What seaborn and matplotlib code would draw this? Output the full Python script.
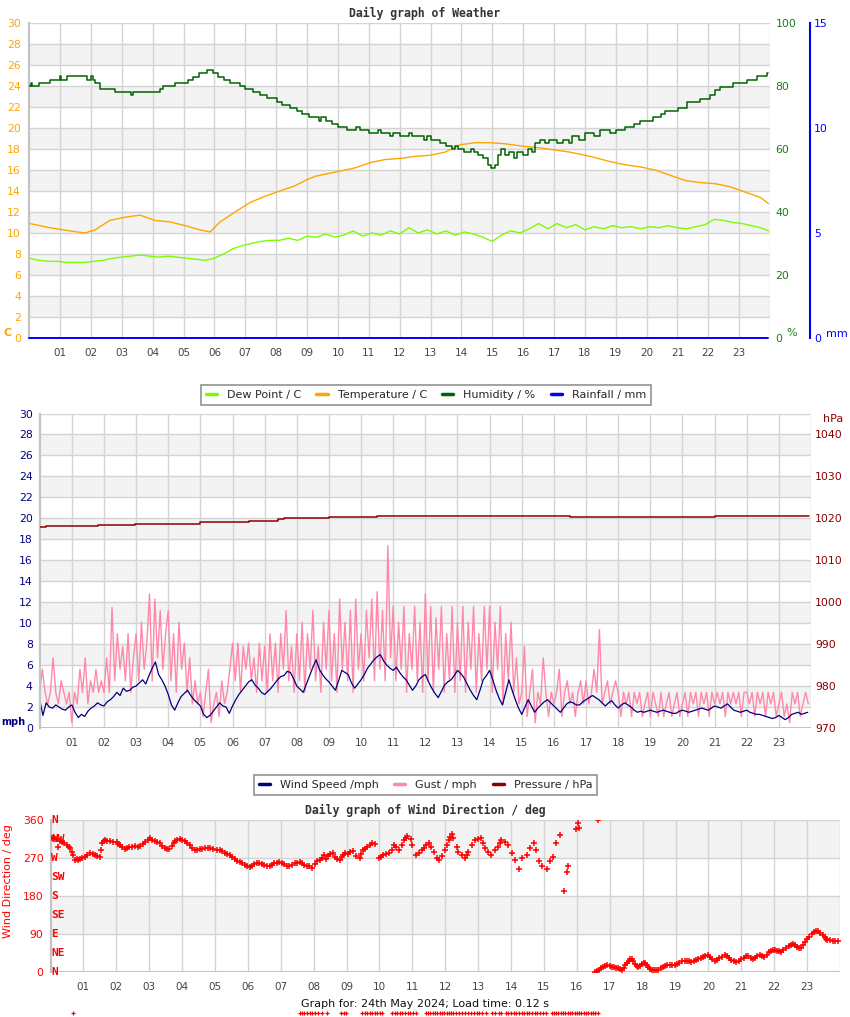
import numpy as np
import pandas as pd
import matplotlib
matplotlib.use("Agg")
import matplotlib.pyplot as plt
import seaborn as sns
from matplotlib.lines import Line2D

# ---------------- data ----------------
hour_ticks = list(range(1, 24))
hour_labels = ["01", "02", "03", "04", "05", "06", "07", "08", "09", "10", "11", "12",
               "13", "14", "15", "16", "17", "18", "19", "20", "21", "22", "23"]

# Weather chart
temp_hours = [0.02, 0.67, 1.32, 1.80, 2.13, 2.61, 3.10, 3.59, 4.07, 4.56, 5.05, 5.53, 5.86,
              6.18, 6.67, 7.15, 7.64, 8.12, 8.61, 8.94, 9.26, 9.74, 10.23, 10.55, 11.04,
              11.53, 12.01, 12.50, 12.98, 13.47, 13.96, 14.44, 14.93, 15.41, 15.90, 16.55,
              17.04, 17.52, 18.17, 18.82, 19.30, 19.79, 20.28, 20.76, 21.25, 21.73, 22.22,
              22.71, 23.19, 23.68, 23.95]
temp_c = [10.9, 10.5, 10.2, 10.0, 10.3, 11.2, 11.5, 11.7, 11.2, 11.05, 10.7, 10.3, 10.1,
          11.05, 12.0, 12.9, 13.5, 14.0, 14.5, 15.0, 15.4, 15.7, 16.0, 16.2, 16.7,
          17.0, 17.1, 17.3, 17.4, 17.7, 18.4, 18.6, 18.6, 18.5, 18.3, 18.1,
          17.9, 17.7, 17.3, 16.8, 16.5, 16.3, 16.0, 15.5, 15.0, 14.8, 14.7,
          14.4, 13.9, 13.4, 12.8]

dew_hours = [0.0, 0.3, 0.6, 0.9, 1.2, 1.5, 1.8, 2.1, 2.4, 2.7,
             3.0, 3.3, 3.6, 3.9, 4.2, 4.5, 4.8, 5.1, 5.4, 5.7,
             6.0, 6.3, 6.6, 6.9, 7.2, 7.5, 7.8, 8.1, 8.4, 8.7,
             9.0, 9.3, 9.6, 9.9, 10.2, 10.5, 10.8, 11.1, 11.4, 11.7,
             12.0, 12.3, 12.6, 12.9, 13.2, 13.5, 13.8, 14.1, 14.4, 14.7,
             15.0, 15.3, 15.6, 15.9, 16.2, 16.5, 16.8, 17.1, 17.4, 17.7,
             18.0, 18.3, 18.6, 18.9, 19.2, 19.5, 19.8, 20.1, 20.4, 20.7,
             21.0, 21.3, 21.6, 21.9, 22.2, 22.5, 22.8, 23.1, 23.4, 23.7,
             23.95]
dew_c = [7.6, 7.4, 7.3, 7.3, 7.2, 7.2, 7.2, 7.3, 7.4, 7.6,
         7.7, 7.8, 7.9, 7.8, 7.7, 7.8, 7.7, 7.6, 7.5, 7.4,
         7.6, 8.0, 8.5, 8.8, 9.0, 9.2, 9.3, 9.3, 9.5, 9.3,
         9.7, 9.6, 9.9, 9.6, 9.8, 10.2, 9.7, 10.0, 9.8, 10.2,
         9.9, 10.5, 10.0, 10.3, 9.9, 10.2, 9.8, 10.1, 9.9, 9.6,
         9.2, 9.8, 10.2, 10.0, 10.4, 10.9, 10.4, 10.9, 10.5, 10.8,
         10.3, 10.6, 10.4, 10.7, 10.5, 10.6, 10.4, 10.6, 10.5, 10.7,
         10.5, 10.4, 10.6, 10.8, 11.3, 11.2, 11.0, 10.9, 10.7, 10.5,
         10.2]

hum_hours = [0.00, 0.05, 0.10, 0.30, 0.67, 0.98, 1.03, 1.22, 1.87, 2.00,
             2.05, 2.13, 2.29, 2.78, 3.30, 3.35, 4.24, 4.33, 4.72, 5.14,
             5.31, 5.50, 5.76, 5.95, 6.11, 6.31, 6.50, 6.83, 7.00, 7.25,
             7.47, 7.70, 8.02, 8.19, 8.45, 8.67, 8.85, 9.05, 9.40, 9.45,
             9.60, 9.80, 10.00, 10.30, 10.60, 10.70, 11.00, 11.30, 11.40, 11.70,
             11.80, 12.00, 12.30, 12.40, 12.80, 12.90, 13.00, 13.30, 13.50, 13.70,
             13.80, 13.90, 14.10, 14.30, 14.40, 14.55, 14.70, 14.85, 14.95, 15.10,
             15.20, 15.30, 15.40, 15.55, 15.70, 15.80, 16.00, 16.15, 16.30, 16.40,
             16.55, 16.70, 16.85, 17.10, 17.30, 17.50, 17.60, 17.80, 18.00, 18.30,
             18.50, 18.80, 19.00, 19.30, 19.60, 19.80, 20.21, 20.47, 20.60, 21.02,
             21.31, 21.73, 22.06, 22.22, 22.38, 22.80, 23.25, 23.58, 23.90, 23.95]
hum_pct = [80.0, 80.9, 80.0, 80.9, 81.8, 83.1, 81.8, 83.1, 81.8, 83.1,
           81.8, 80.9, 79.0, 78.0, 77.3, 78.0, 79.0, 79.9, 80.9, 81.8,
           83.0, 84.0, 85.0, 84.0, 83.0, 81.8, 80.9, 79.9, 79.0, 78.0,
           77.0, 76.1, 75.0, 74.0, 73.0, 72.0, 71.0, 70.0, 69.0, 70.0,
           69.0, 68.0, 67.0, 66.0, 67.0, 66.0, 65.0, 66.0, 65.0, 64.0,
           65.0, 64.0, 65.0, 64.0, 63.0, 64.0, 63.0, 62.0, 61.0, 60.0,
           61.0, 60.0, 59.0, 60.0, 59.0, 58.0, 57.0, 55.0, 54.0, 55.0,
           58.0, 60.0, 58.0, 59.0, 57.0, 59.0, 58.0, 60.0, 59.0, 62.0,
           63.0, 62.0, 63.0, 62.0, 63.0, 62.0, 64.0, 63.0, 65.0, 64.0,
           66.0, 65.0, 66.0, 67.0, 68.0, 69.0, 70.0, 71.0, 72.0, 73.0,
           75.0, 76.0, 77.0, 78.7, 79.8, 80.9, 81.9, 83.2, 84.0, 84.0]

rain_hours = [0.0, 23.95]
rain_mm = [0.0, 0.0]

# Wind chart (wind speed every 6 min, gust every 5 min)
wind_mph = [
    2.7, 1.2, 2.4, 2.0, 1.9, 2.2, 2.0, 1.8, 1.7, 2.0,
    2.2, 1.5, 1.0, 1.3, 1.1, 1.6, 1.9, 2.1, 2.4, 2.2,
    2.1, 2.5, 2.7, 3.0, 3.4, 3.1, 3.8, 3.5, 3.6, 3.9,
    4.0, 4.3, 4.6, 4.2, 5.0, 5.7, 6.3, 5.1, 4.6, 4.0,
    3.2, 2.2, 1.7, 2.4, 3.0, 3.3, 3.6, 3.1, 2.7, 2.4,
    2.1, 1.3, 1.0, 1.2, 1.6, 2.0, 2.4, 2.1, 2.0, 1.4,
    2.1, 2.7, 3.2, 3.6, 4.0, 4.4, 4.6, 4.1, 3.8, 3.4,
    3.2, 3.5, 3.8, 4.2, 4.6, 4.9, 5.0, 5.4, 5.3, 4.7,
    4.0, 3.7, 3.4, 4.2, 5.0, 5.8, 6.5, 5.6, 5.1, 4.7,
    4.4, 4.0, 3.6, 4.5, 5.5, 5.3, 5.1, 4.3, 3.8, 4.2,
    4.6, 5.1, 5.7, 6.1, 6.5, 6.8, 7.0, 6.4, 6.0, 5.7,
    5.5, 5.8, 5.3, 4.9, 4.6, 4.1, 3.6, 4.0, 4.6, 4.9,
    5.1, 4.4, 3.8, 3.3, 2.9, 3.5, 4.1, 4.4, 4.6, 5.0,
    5.5, 5.2, 4.8, 4.2, 3.6, 3.1, 2.7, 3.6, 4.6, 5.0,
    5.5, 4.6, 3.6, 2.8, 2.2, 3.4, 4.6, 3.6, 2.7, 1.9,
    1.3, 2.0, 2.7, 2.1, 1.5, 1.9, 2.2, 2.5, 2.7, 2.4,
    2.1, 1.8, 1.5, 1.9, 2.3, 2.5, 2.4, 2.2, 2.2, 2.5,
    2.7, 2.9, 3.1, 2.9, 2.7, 2.4, 2.1, 2.4, 2.6, 2.2,
    1.9, 2.2, 2.4, 2.2, 2.0, 1.7, 1.5, 1.6, 1.5, 1.6,
    1.7, 1.6, 1.5, 1.6, 1.7, 1.6, 1.5, 1.4, 1.4, 1.6,
    1.7, 1.6, 1.5, 1.6, 1.7, 1.8, 1.9, 1.8, 1.7, 1.9,
    2.1, 2.0, 1.9, 2.1, 2.3, 2.0, 1.7, 1.6, 1.5, 1.6,
    1.7, 1.5, 1.4, 1.3, 1.3, 1.2, 1.1, 1.0, 0.9, 1.0,
    1.2, 1.0, 0.8, 1.0, 1.3, 1.4, 1.5, 1.3, 1.4, 1.5]
gust_mph = [
    3.4, 5.6, 3.4, 2.3, 3.4, 6.7, 3.4, 2.3, 4.5, 3.4, 2.3, 3.4,
    0.5, 3.4, 2.3, 5.6, 3.4, 6.7, 2.3, 4.5, 3.4, 5.6, 3.4, 4.5,
    3.4, 6.7, 3.4, 11.5, 4.5, 9.0, 5.6, 7.8, 4.5, 9.0, 3.4, 6.7,
    9.0, 4.5, 10.1, 5.6, 8.1, 12.8, 4.5, 12.3, 6.7, 11.2, 5.6, 9.0,
    11.2, 4.5, 9.0, 3.4, 10.1, 5.6, 8.1, 3.4, 6.7, 2.3, 4.5, 2.3,
    3.4, 1.1, 3.4, 5.6, 0.5, 2.3, 3.4, 1.1, 4.5, 2.3, 3.4, 5.6,
    8.1, 4.5, 8.1, 3.4, 7.8, 5.6, 8.1, 4.5, 6.7, 3.4, 8.1, 4.5,
    7.8, 3.4, 9.0, 4.5, 8.1, 3.4, 9.0, 5.6, 11.2, 4.5, 7.8, 3.4,
    9.0, 4.5, 10.1, 3.4, 9.0, 5.6, 11.2, 4.5, 7.8, 3.4, 10.1, 5.6,
    11.2, 4.5, 9.0, 3.4, 12.3, 5.6, 10.1, 4.5, 11.2, 3.4, 12.3, 5.6,
    9.0, 4.5, 11.2, 6.7, 12.3, 4.5, 13.0, 5.6, 11.2, 4.5, 17.4, 6.7,
    11.6, 4.5, 10.1, 5.6, 11.6, 3.4, 9.0, 5.6, 11.6, 4.5, 10.1, 3.4,
    12.8, 4.5, 11.6, 3.4, 10.5, 5.6, 11.6, 3.4, 9.0, 4.5, 11.6, 3.4,
    10.1, 4.5, 11.6, 3.4, 10.1, 5.6, 11.6, 3.4, 9.0, 4.5, 11.6, 5.6,
    11.6, 3.4, 10.1, 5.6, 11.6, 2.3, 9.0, 4.5, 10.1, 3.4, 6.7, 2.3,
    3.4, 7.8, 1.1, 3.4, 5.6, 0.5, 3.4, 2.3, 6.7, 3.4, 1.1, 3.4,
    2.3, 3.4, 5.6, 1.1, 3.4, 4.5, 2.3, 3.4, 1.1, 3.4, 4.5, 2.3,
    4.5, 2.3, 3.4, 5.6, 3.4, 9.4, 2.3, 3.4, 4.5, 2.3, 3.4, 4.5,
    3.4, 1.1, 3.4, 2.3, 3.4, 1.1, 3.4, 2.3, 3.4, 1.1, 2.3, 3.4,
    1.1, 3.4, 2.3, 1.1, 3.4, 1.1, 2.3, 3.4, 1.1, 2.3, 3.4, 1.1,
    2.3, 3.4, 1.1, 3.4, 2.3, 3.4, 1.1, 3.4, 2.3, 3.4, 1.1, 3.4,
    2.3, 3.4, 2.3, 3.4, 1.1, 3.4, 2.3, 3.4, 2.3, 3.4, 1.1, 3.4,
    3.4, 2.3, 3.4, 1.1, 3.4, 2.3, 3.4, 1.1, 3.4, 2.3, 3.4, 1.1,
    2.3, 3.4, 1.1, 2.3, 0.5, 3.4, 2.3, 3.4, 1.1, 2.3, 3.4, 2.3]
press_hours = [0.0, 0.2, 1.8, 2.97, 5.0, 6.5, 7.4, 7.6, 9.0, 10.5, 12.0, 13.0, 15.0,
               16.5, 17.5, 19.0, 21.0, 22.5, 23.95]
press_hpa = [1017.9, 1018.1, 1018.3, 1018.6, 1018.9, 1019.2, 1019.6, 1020.0, 1020.3,
             1020.4, 1020.5, 1020.4, 1020.4, 1020.3, 1020.1, 1020.2, 1020.5, 1020.4, 1020.4]

# Wind direction chart
dir_hours_a = [0.05, 0.10, 0.17, 0.23, 0.30, 0.35, 0.42, 0.50, 0.55, 0.60,
               0.65, 0.69, 0.75, 0.80, 0.84, 0.90, 0.95, 1.05, 1.10, 1.20,
               1.28, 1.35, 1.42, 1.50, 1.53, 1.57, 1.62, 1.66, 1.72, 1.81,
               1.90, 2.02, 2.06, 2.11, 2.18, 2.26, 2.33, 2.40, 2.48, 2.57,
               2.65, 2.72, 2.80, 2.87, 2.95, 3.02, 3.10, 3.17, 3.25, 3.32,
               3.40, 3.48, 3.55, 3.60, 3.68, 3.74, 3.78, 3.85, 3.93, 4.00,
               4.08, 4.15, 4.23, 4.30, 4.38, 4.45, 4.54, 4.62, 4.70, 4.78,
               4.85, 4.95, 5.05, 5.14, 5.22, 5.30, 5.38, 5.45, 5.52, 5.60,
               5.68, 5.75, 5.83, 5.90, 5.98, 6.05, 6.12, 6.20, 6.28, 6.35,
               6.42, 6.50, 6.58, 6.66, 6.73, 6.80, 6.88, 6.96, 7.03, 7.10,
               7.18, 7.26, 7.34, 7.42, 7.50, 7.57, 7.65, 7.72, 7.80, 7.87]
dir_deg_a = [318, 316, 315, 296, 310, 308, 306, 300, 297, 293,
             285, 277, 265, 268, 266, 268, 270, 272, 276, 282,
             280, 277, 275, 272, 290, 305, 310, 312, 311, 310,
             309, 308, 304, 300, 295, 291, 294, 296, 297, 298,
             297, 298, 302, 308, 313, 317, 313, 310, 307, 305,
             299, 293, 291, 291, 298, 305, 310, 313, 315, 312,
             310, 305, 300, 294, 289, 290, 291, 292, 293, 294,
             293, 291, 290, 289, 286, 282, 279, 277, 272, 268,
             264, 260, 257, 253, 250, 249, 252, 255, 257, 258,
             256, 253, 252, 251, 254, 257, 259, 260, 258, 255,
             252, 251, 254, 257, 259, 260, 257, 254, 252, 251]
dir_hours_b = [7.95, 8.05, 8.10, 8.20, 8.25, 8.30, 8.38, 8.45, 8.50, 8.58,
               8.65, 8.72, 8.80, 8.85, 8.90, 8.95, 9.05, 9.10, 9.20, 9.30,
               9.40, 9.45, 9.50, 9.55, 9.62, 9.70, 9.78, 9.85, 10.00, 10.05,
               10.12, 10.20, 10.30, 10.38, 10.45, 10.50, 10.60, 10.68, 10.75, 10.80,
               10.85, 10.95, 11.00, 11.10, 11.20, 11.30, 11.35, 11.42, 11.50, 11.58,
               11.66, 11.75, 11.80, 11.90, 12.00, 12.05, 12.10, 12.15, 12.20, 12.25,
               12.35, 12.40, 12.50, 12.60, 12.65, 12.70, 12.80, 12.90, 13.00, 13.10,
               13.15, 13.20, 13.30, 13.40, 13.50, 13.60, 13.65, 13.70, 13.83, 13.90,
               14.03, 14.13, 14.23, 14.33, 14.48, 14.59, 14.69, 14.75, 14.84, 14.94,
               15.09, 15.19, 15.29, 15.36, 15.48, 15.60, 15.70, 15.73, 15.97, 16.03,
               16.08, 16.64]
dir_deg_b = [247, 255, 262, 265, 270, 277, 268, 275, 279, 283,
             272, 268, 265, 272, 277, 282, 280, 284, 286, 275,
             270, 280, 289, 292, 296, 300, 305, 302, 270, 272,
             277, 280, 282, 288, 300, 296, 289, 300, 312, 318,
             322, 315, 300, 277, 283, 290, 293, 300, 305, 295,
             284, 270, 265, 275, 289, 300, 312, 320, 327, 318,
             295, 284, 276, 270, 278, 284, 300, 312, 315, 317,
             305, 293, 285, 277, 288, 296, 305, 312, 308, 300,
             281, 265, 245, 269, 277, 293, 305, 290, 262, 251,
             244, 262, 273, 305, 324, 192, 237, 250, 338, 354,
             342, 360]
dir_hours_c = [16.56, 16.62, 16.66, 16.72, 16.80, 16.86, 16.93, 17.00, 17.06, 17.13,
               17.20, 17.26, 17.32, 17.36, 17.42, 17.47, 17.52, 17.58, 17.63, 17.67,
               17.72, 17.77, 17.82, 17.87, 17.93, 17.98, 18.03, 18.07, 18.12, 18.17,
               18.22, 18.27, 18.35, 18.42, 18.48, 18.55, 18.62, 18.68, 18.75, 18.83,
               18.90, 18.98, 19.05, 19.12, 19.20, 19.28, 19.35, 19.42, 19.48, 19.55,
               19.62, 19.69, 19.76, 19.83, 19.90, 19.99, 20.05, 20.12, 20.19, 20.26,
               20.33, 20.40, 20.50, 20.57, 20.64, 20.70, 20.78, 20.85, 20.92, 21.00,
               21.07, 21.13, 21.20, 21.28, 21.35, 21.42, 21.49, 21.56, 21.63, 21.70,
               21.77, 21.84, 21.90, 21.96, 22.03, 22.10, 22.16, 22.21, 22.28, 22.36,
               22.45, 22.51, 22.57, 22.64, 22.70, 22.76, 22.82, 22.88, 22.94, 23.00,
               23.07, 23.14, 23.20, 23.27, 23.33, 23.40, 23.47, 23.53, 23.58, 23.62,
               23.70, 23.78, 23.86, 23.93]
dir_deg_c = [0, 3, 5, 9, 13, 15, 16, 14, 12, 12,
             10, 9, 6, 5, 10, 16, 21, 26, 30, 30,
             25, 19, 14, 12, 15, 18, 21, 21, 16, 11,
             7, 5, 5, 5, 5, 9, 12, 15, 16, 16,
             17, 17, 19, 22, 25, 27, 26, 25, 24, 26,
             28, 30, 33, 36, 38, 40, 35, 30, 26, 29,
             33, 36, 40, 37, 32, 28, 25, 23, 26, 30,
             34, 37, 38, 34, 30, 34, 38, 40, 38, 36,
             41, 47, 50, 52, 51, 50, 49, 48, 52, 57,
             62, 65, 66, 63, 60, 58, 58, 64, 72, 78,
             84, 90, 94, 97, 96, 92, 88, 83, 79, 76,
             75, 74, 74, 74]
calm_hours = [0.69, 7.57, 7.65, 7.72, 7.80, 7.88, 7.96, 8.05, 8.14, 8.24, 8.41,
              8.84, 8.92, 8.99, 9.48, 9.55, 9.62, 9.70, 9.78, 9.86, 9.94, 10.02, 10.08,
              10.39, 10.46, 10.54, 10.62, 10.70, 10.78, 10.86, 10.94, 11.02, 11.11,
              11.41, 11.48, 11.55, 11.62, 11.69, 11.76, 11.83, 11.90, 11.97, 12.04,
              12.11, 12.18, 12.25, 12.32, 12.41, 12.50, 12.59, 12.68, 12.77, 12.86,
              12.95, 13.04, 13.13, 13.23, 13.41, 13.52, 13.63, 13.69, 13.84, 13.92,
              14.00, 14.08, 14.16, 14.24, 14.32, 14.40, 14.48, 14.56, 14.64, 14.72,
              14.80, 14.88, 14.96, 15.05, 15.23, 15.30, 15.37, 15.44, 15.51, 15.58,
              15.65, 15.72, 15.79, 15.86, 15.93, 16.00, 16.07, 16.14, 16.21, 16.28,
              16.35, 16.42, 16.49, 16.56, 16.63]
calm_deg = -98

compass_deg = [360, 315, 270, 225, 180, 135, 90, 45, 0]
compass_lbl = ["N", "NW", "W", "SW", "S", "SE", "E", "NE", "N"]

# ---------------- style ----------------
sns.set_style("white")
plt.rcParams['font.family'] = ['DejaVu Sans']
plt.rcParams['axes.unicode_minus'] = False

W, H = 850, 1017
fig = plt.figure(figsize=(W / 100, H / 100), dpi=100)


def rect(l, t, r, b):
    return [l / W, 1 - b / H, (r - l) / W, (b - t) / H]


def ftext(x, y, s, **kw):
    return fig.text(x / W, 1 - y / H, s, **kw)


GRID = '#d4d4d4'
BAND = '#f3f3f3'
TICKC = '#444444'
MONO = ['DejaVu Sans Mono']


def frame(ax, ylim, yticks, bands, ycolor, ypad):
    ax.set_xlim(0, 24)
    ax.set_ylim(*ylim)
    for lo, hi in bands:
        ax.axhspan(lo, hi, color=BAND, lw=0, zorder=0)
    for y in yticks:
        ax.axhline(y, color=GRID, lw=1, zorder=0.5)
    for h in range(1, 25):
        ax.axvline(h, color=GRID, lw=1, zorder=0.5)
    ax.set_xticks(hour_ticks)
    ax.set_xticklabels(hour_labels)
    ax.set_yticks(yticks)
    ax.set_yticklabels([str(v) for v in yticks])
    ax.tick_params(axis='x', length=0, pad=7, labelsize=7.5, labelcolor=TICKC)
    ax.tick_params(axis='y', length=0, pad=ypad, labelsize=7.8, labelcolor=ycolor)
    for s in ['top', 'right', 'bottom']:
        ax.spines[s].set_visible(False)
    ax.spines['left'].set_color('#c4c4c4')
    ax.spines['left'].set_linewidth(1.6)
    ax.set_xlabel('')
    ax.set_ylabel('')


def twin_clean(ax):
    for s in ax.spines.values():
        s.set_visible(False)
    ax.set_xlabel('')
    ax.set_ylabel('')


# ---------------- chart 1: weather ----------------
ax1 = fig.add_axes(rect(29.3, 23, 770, 338))
axh = ax1.twinx()
axr = ax1.twinx()

sns.lineplot(x=temp_hours, y=temp_c, ax=ax1, color='#FFA500', lw=1.0,
             estimator=None, sort=False, legend=False)
sns.lineplot(x=dew_hours, y=dew_c, ax=ax1, color='#7CFC00', lw=1.0,
             estimator=None, sort=False, legend=False)
frame(ax1, (0, 30), list(range(0, 31, 2)),
      [(2, 4), (6, 8), (10, 12), (14, 16), (18, 20), (22, 24), (26, 28)], '#FFA500', 6)

sns.lineplot(x=hum_hours, y=hum_pct, ax=axh, color='#006400', lw=1.1,
             drawstyle='steps-post', estimator=None, sort=False, legend=False)
axh.set_ylim(0, 100)
axh.set_yticks([0, 20, 40, 60, 80, 100])
axh.set_yticklabels(["0", "20", "40", "60", "80", "100"])
axh.tick_params(axis='y', length=0, pad=4, labelsize=7.8, labelcolor='#1a7a1a')
twin_clean(axh)

sns.lineplot(x=rain_hours, y=rain_mm, ax=axr, color='#0000FF', lw=1.4,
             estimator=None, sort=False, legend=False, clip_on=False)
axr.set_ylim(0, 15)
axr.set_xlim(0, 24)
axr.set_yticks([0, 5, 10, 15])
axr.set_yticklabels(["0", "5", "10", "15"])
twin_clean(axr)
axr.spines['right'].set_visible(True)
axr.spines['right'].set_position(('outward', 28.8))
axr.spines['right'].set_color('#0000FF')
axr.spines['right'].set_linewidth(1.5)
axr.tick_params(axis='y', length=0, pad=3, labelsize=7.8, labelcolor='#0000FF')

ftext(425, 13, "Daily graph of Weather", ha='center', va='center', fontsize=8.3,
      fontweight='bold', family=MONO, color='#333333')
ftext(3, 333, "C", ha='left', va='center', fontsize=8, fontweight='bold', color='#FFA500')
ftext(786, 333, "%", ha='left', va='center', fontsize=8, color='#1a7a1a')
ftext(826, 334, "mm", ha='left', va='center', fontsize=8, color='#0000FF')

leg1 = fig.legend(
    [Line2D([], [], color=c, lw=2.5) for c in ['#7CFC00', '#FFA500', '#006400', '#0000FF']],
    ["Dew Point / C", "Temperature / C", "Humidity / %", "Rainfall / mm"],
    loc='center', bbox_to_anchor=(426 / W, 1 - 395 / H), ncol=4, frameon=True,
    fancybox=False, edgecolor='#777777', fontsize=8, handlelength=1.0,
    handletextpad=0.9, columnspacing=1.4, borderpad=0.45)
leg1.get_frame().set_linewidth(1.2)

# ---------------- chart 2: wind ----------------
ax2 = fig.add_axes(rect(39.7, 413.5, 811, 728))
axp = ax2.twinx()
gust_hours = np.arange(len(gust_mph)) / 12.0
wind_hours = np.arange(len(wind_mph)) / 10.0
sns.lineplot(x=gust_hours, y=gust_mph, ax=ax2, color='#FF88AA', lw=1.0,
             estimator=None, sort=False, legend=False)
sns.lineplot(x=wind_hours, y=wind_mph, ax=ax2, color='#000080', lw=0.9,
             estimator=None, sort=False, legend=False)
frame(ax2, (0, 30), list(range(0, 31, 2)),
      [(2, 4), (6, 8), (10, 12), (14, 16), (18, 20), (22, 24), (26, 28)], '#000080', 5)
ax2.axhline(0, color='#c4c4c4', lw=1.5, zorder=0.6)

sns.lineplot(x=press_hours, y=press_hpa, ax=axp, color='#8B0000', lw=1.1,
             drawstyle='steps-post', estimator=None, sort=False, legend=False)
axp.set_ylim(970, 1044.8)
axp.set_yticks(list(range(970, 1041, 10)))
axp.set_yticklabels([str(v) for v in range(970, 1041, 10)])
axp.tick_params(axis='y', length=0, pad=3, labelsize=7.8, labelcolor='#8B0000')
twin_clean(axp)

ftext(833, 419, "hPa", ha='center', va='center', fontsize=8, color='#8B0000')
ftext(1, 722, "mph", ha='left', va='center', fontsize=7, fontweight='bold', color='#000080')

leg2 = fig.legend(
    [Line2D([], [], color=c, lw=2.5) for c in ['#000080', '#FF88AA', '#8B0000']],
    ["Wind Speed /mph", "Gust / mph", "Pressure / hPa"],
    loc='center', bbox_to_anchor=(425.5 / W, 1 - 785 / H), ncol=3, frameon=True,
    fancybox=False, edgecolor='#777777', fontsize=8, handlelength=1.0,
    handletextpad=0.9, columnspacing=1.4, borderpad=0.45)
leg2.get_frame().set_linewidth(1.2)

# ---------------- chart 3: wind direction ----------------
ax3 = fig.add_axes(rect(50.5, 820, 840, 972))
dir_hours = dir_hours_a + dir_hours_b + dir_hours_c
dir_deg = dir_deg_a + dir_deg_b + dir_deg_c
sns.scatterplot(x=dir_hours, y=dir_deg, ax=ax3, marker='+', color='#FF0000', s=20,
                linewidth=1.1, legend=False, zorder=3)
sns.scatterplot(x=calm_hours, y=[calm_deg] * len(calm_hours), ax=ax3, marker='+',
                color='#FF0000', s=10, linewidth=0.9, legend=False, clip_on=False, zorder=3)
frame(ax3, (0, 360), [0, 90, 180, 270, 360], [(90, 180), (270, 360)], '#FF0000', 5)
ax3.set_ylim(0, 360)
ax3.axhline(0, color='#c4c4c4', lw=1.5, zorder=0.6)
for d, lbl in zip(compass_deg, compass_lbl):
    ax3.text(0.03, d, lbl, ha='left', va='center', fontsize=8, fontweight='bold',
             family=MONO, color='#FF0000', zorder=4)

ftext(425, 810, "Daily graph of Wind Direction / deg", ha='center', va='center',
      fontsize=8.3, fontweight='bold', family=MONO, color='#333333')
ftext(8, 881, "Wind Direction / deg", ha='center', va='center', rotation=90,
      fontsize=8, color='#FF0000')
ftext(425, 1004, "Graph for: 24th May 2024; Load time: 0.12 s", ha='center',
      va='center', fontsize=8, color='#111111')

fig.savefig("out.png", dpi=100)
